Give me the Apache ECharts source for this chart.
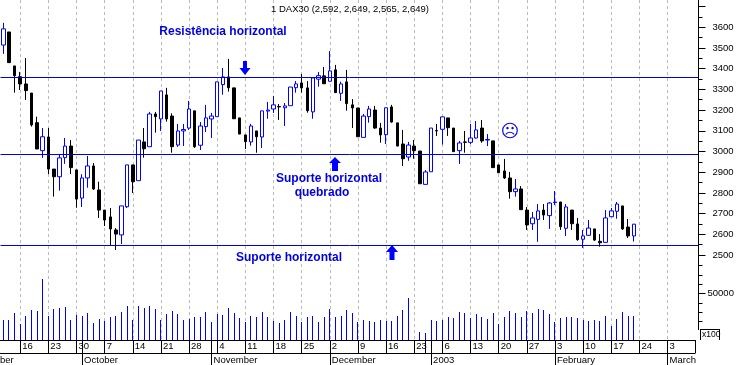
<!DOCTYPE html>
<html><head><meta charset="utf-8">
<style>html,body{margin:0;padding:0;background:#fff}#c{width:738px;height:365px}</style>
<script src="https://cdn.jsdelivr.net/npm/echarts@6/dist/echarts.min.js"></script>
</head><body><div id="c"></div>
<script>
const categories = [
 'Sep 11','Sep 12','Sep 13',
 'Sep 16','Sep 17','Sep 18','Sep 19','Sep 20',
 'Sep 23','Sep 24','Sep 25','Sep 26','Sep 27',
 'Sep 30','Oct 1','Oct 2','Oct 3','Oct 4',
 'Oct 7','Oct 8','Oct 9','Oct 10','Oct 11',
 'Oct 14','Oct 15','Oct 16','Oct 17','Oct 18',
 'Oct 21','Oct 22','Oct 23','Oct 24','Oct 25',
 'Oct 28','Oct 29','Oct 30','Oct 31','Nov 1',
 'Nov 4','Nov 5','Nov 6','Nov 7','Nov 8',
 'Nov 11','Nov 12','Nov 13','Nov 14','Nov 15',
 'Nov 18','Nov 19','Nov 20','Nov 21','Nov 22',
 'Nov 25','Nov 26','Nov 27','Nov 28','Nov 29',
 'Dec 2','Dec 3','Dec 4','Dec 5','Dec 6',
 'Dec 9','Dec 10','Dec 11','Dec 12','Dec 13',
 'Dec 16','Dec 17','Dec 18','Dec 19','Dec 20',
 'Dec 23','Dec 27','Dec 30','Jan 2','Jan 3',
 'Jan 6','Jan 7','Jan 8','Jan 9','Jan 10',
 'Jan 13','Jan 14','Jan 15','Jan 16','Jan 17',
 'Jan 20','Jan 21','Jan 22','Jan 23','Jan 24',
 'Jan 27','Jan 28','Jan 29','Jan 30','Jan 31',
 'Feb 3','Feb 4','Feb 5','Feb 6','Feb 7',
 'Feb 10','Feb 11','Feb 12','Feb 13','Feb 14',
 'Feb 17','Feb 18','Feb 19','Feb 20','Feb 21',
 'Feb 24','Feb 25','Feb 26','Feb 27','Feb 28',
 'Mar 3','Mar 4','Mar 5','Mar 6','Mar 7','Mar 10'];
const weekStarts = ['Sep 16','Sep 23','Sep 30','Oct 7','Oct 14','Oct 21','Oct 28','Nov 4','Nov 11','Nov 18','Nov 25','Dec 2','Dec 9','Dec 16','Dec 23','Jan 6','Jan 13','Jan 20','Jan 27','Feb 3','Feb 10','Feb 17','Feb 24','Mar 3'];
const extraDayTicks = ['Oct 1','Nov 1','Dec 30','Jan 2','Mar 10'];
const monthStarts = ['Oct 1','Nov 1','Dec 2','Jan 2','Feb 3','Mar 3'];
const monthLabels = ['October','November','December','2003','February','March'];
const opens = [3514,3577,3413,3361,3326,3282,3139,3004,3070,2915,2878,2970,3026,2911,2775,2872,2930,2814,2717,2684,2621,2597,2733,2935,2859,3046,3023,3181,3157,3273,3171,3031,3099,3113,3196,3030,3120,3157,3168,3323,3360,3307,3162,3080,3046,3099,3070,3195,3205,3217,3211,3221,3308,3331,3307,3191,3349,3365,3339,3394,3281,3336,3225,3210,3068,3168,3200,3113,3081,3215,3138,3036,2973,3026,3002,2841,2902,3101,3107,3162,3113,3004,3046,3044,3065,3113,3055,3051,2935,2906,2872,2806,2819,2717,2651,2672,2717,2690,2753,2756,2629,2717,2650,2576,2595,2626,2566,2561,2685,2711,2737,2635,2592];
const closes = [3592,3429,3366,3326,3294,3128,3012,3071,2915,2878,2969,3026,2922,2770,2872,2930,2819,2717,2669,2626,2601,2737,2935,2854,3055,3013,3181,3168,3292,3157,3023,3099,3106,3205,3023,3123,3162,3171,3336,3360,3308,3158,3084,3047,3123,3071,3196,3200,3225,3215,3220,3311,3326,3307,3197,3355,3366,3327,3389,3284,3326,3231,3210,3071,3171,3205,3113,3080,3211,3142,3026,2965,3031,3004,2844,2901,3113,3099,3167,3115,2999,3041,3044,3065,3104,3051,3058,2922,2897,2872,2806,2819,2719,2645,2679,2713,2693,2751,2756,2637,2732,2651,2574,2592,2630,2572,2559,2679,2713,2746,2626,2592,2649];
const lows = [3471,3429,3284,3297,3249,3120,3012,2969,2891,2782,2811,2940,2891,2728,2732,2825,2814,2679,2640,2548,2524,2553,2727,2799,2859,2970,3023,3091,3099,3144,2994,3022,3026,3104,3017,3007,3094,3065,3168,3274,3289,3158,3084,3012,3028,2994,3017,3158,3186,3152,3123,3221,3284,3284,3187,3158,3313,3327,3339,3284,3244,3197,3113,3071,3068,3139,3109,3042,3036,3139,3026,2930,2955,2965,2844,2841,2902,3075,3033,3075,2999,2940,2994,3036,3062,3042,3026,2922,2897,2867,2772,2782,2719,2621,2621,2564,2669,2626,2741,2621,2592,2621,2569,2534,2592,2568,2540,2561,2684,2675,2621,2582,2565];
const highs = [3621,3577,3413,3384,3451,3282,3168,3113,3113,2915,2988,3065,3055,2911,2890,2978,2944,2854,2717,2727,2630,2737,2935,2935,3055,3113,3191,3191,3292,3307,3184,3133,3133,3244,3196,3142,3225,3186,3336,3403,3447,3307,3162,3080,3133,3099,3196,3239,3268,3229,3234,3311,3340,3374,3340,3355,3384,3408,3485,3418,3337,3394,3253,3210,3181,3220,3220,3138,3211,3225,3138,3104,3046,3055,3002,2910,3113,3133,3167,3162,3113,3051,3099,3133,3147,3152,3084,3051,2935,2964,2901,2867,2833,2732,2708,2746,2746,2756,2809,2756,2746,2717,2679,2621,2669,2626,2601,2717,2727,2756,2737,2674,2649];
const volumes = [21500,21500,29000,17200,25800,32200,31100,65500,25800,33300,34400,35400,21500,26900,25800,29000,18300,22600,20400,24700,25800,30100,36500,21500,36500,34400,36500,33300,21500,27900,31100,27900,21500,22600,24700,24700,30100,19300,27900,26900,34400,29000,23600,19300,25800,24700,30100,24700,20400,18300,21500,30100,25800,19300,24700,25800,19300,24700,33300,24700,25800,32200,29000,19300,21500,20400,19300,21500,20400,20400,25800,32200,45100,null,8600,7500,21500,20400,21500,24700,23600,30100,29000,23600,27900,24700,22600,29000,17200,24700,31100,29000,24700,31100,29000,33300,32200,27900,19300,23600,24700,24700,23600,21500,20400,21500,20400,25800,15000,22600,30100,25800,25800];
const levels = [3357, 2985, 2546];
const priceTicks = {min: 2500, max: 3700, step: 100};
const volumeMinorTicks = [20000,30000,40000,50000,60000,70000,80000];
const volumeMajorTicks = [50000];
const title = '1 DAX30 (2,592, 2,649, 2,565, 2,649)';

const BLUE = '#0000e6', FONT = 'Liberation Sans';
const rising = opens.map((o,i)=> closes[i]>=o ? [o,closes[i],lows[i],highs[i]] : '-');
const falling = opens.map((o,i)=> closes[i]<o ? [o,closes[i],lows[i],highs[i]] : '-');
const band = {left:0.5, width:698};
const hiddenX = (g)=>({type:'category',gridIndex:g,data:categories,show:false,boundaryGap:true});
const tickSet = new Set(weekStarts.concat(extraDayTicks));
const label = (text,x,y,extra={}) => ({type:'text',x,y,silent:true,z:50,style:Object.assign({text,fill:BLUE,font:'bold 12px "'+FONT+'"',align:'center',verticalAlign:'middle'},extra)});
const rect = (x,y,w,h,fill='#000') => ({type:'rect',silent:true,z:40,shape:{x,y,width:w,height:h},style:{fill}});
const arrow = (pts) => ({type:'polygon',silent:true,z:50,shape:{points:pts},style:{fill:'#0000ff'}});

echarts.init(document.getElementById('c'),null,{renderer:'canvas'}).setOption({
  animation:false, backgroundColor:'#fff',
  grid:[
    {left:band.left,width:band.width,top:6.5,height:248.5},
    {left:band.left,width:band.width,top:265.6,height:74.4},
    {left:band.left,width:band.width,top:0,height:340}
  ],
  xAxis:[
    hiddenX(0), hiddenX(1),
    {type:'category',gridIndex:2,data:categories,boundaryGap:true,position:'bottom',
      axisLine:{show:false},
      axisTick:{show:true,alignWithLabel:true,length:13,lineStyle:{color:'#000'},interval:(i,v)=>tickSet.has(v)},
      axisLabel:{show:true,interval:(i,v)=>weekStarts.includes(v),formatter:v=>v.split(' ')[1],align:'left',padding:[0,0,0,2],margin:1,fontFamily:FONT,fontSize:9.5,color:'#000',hideOverlap:false},
      splitLine:{show:true,alignWithLabel:true,interval:(i,v)=>weekStarts.includes(v),lineStyle:{color:'#bbb',type:[3,3],width:1}}},
    {type:'category',gridIndex:2,data:categories,boundaryGap:true,position:'bottom',offset:13,
      axisLine:{show:false},
      axisTick:{show:true,alignWithLabel:true,length:12,lineStyle:{color:'#000'},interval:(i,v)=>monthStarts.includes(v)},
      axisLabel:{show:true,interval:(i,v)=>monthStarts.includes(v),formatter:v=>monthLabels[monthStarts.indexOf(v)],align:'left',padding:[0,0,0,2],margin:2,fontFamily:FONT,fontSize:9.5,color:'#000',hideOverlap:false},
      splitLine:{show:false}}
  ],
  yAxis:[
    {type:'value',gridIndex:0,position:'right',min:priceTicks.min,max:priceTicks.max,interval:priceTicks.step,
      axisLine:{show:false},axisTick:{show:true,length:7,lineStyle:{color:'#000'}},
      minorTick:{show:true,splitNumber:2,length:4,lineStyle:{color:'#000'}},
      axisLabel:{margin:14,showMaxLabel:false,formatter:v=>String(v),fontFamily:FONT,fontSize:9.5,color:'#000'},splitLine:{show:false}},
    {type:'value',gridIndex:1,position:'right',min:0,max:80000,
      axisLine:{show:false},axisTick:{show:true,length:4,customValues:volumeMinorTicks,lineStyle:{color:'#000'}},
      axisLabel:{show:false},splitLine:{show:false}},
    {type:'value',gridIndex:1,position:'right',min:0,max:80000,
      axisLine:{show:false},axisTick:{show:true,length:7,customValues:volumeMajorTicks,lineStyle:{color:'#000'}},
      axisLabel:{show:true,customValues:volumeMajorTicks,formatter:v=>String(v),margin:9,fontFamily:FONT,fontSize:9.5,color:'#000'},splitLine:{show:false}},
    {type:'value',gridIndex:2,show:false,min:0,max:1}
  ],
  series:[
    {type:'candlestick',xAxisIndex:0,yAxisIndex:0,data:falling,barWidth:3,z:5,silent:true,
      itemStyle:{color:'#000',color0:'#000',borderColor:'#000',borderColor0:'#000',borderWidth:1},
      markLine:{silent:true,symbol:'none',z:20,animation:false,label:{show:false},
        lineStyle:{color:BLUE,width:1,type:'solid'},
        data:levels.map(v=>({yAxis:v}))}},
    {type:'candlestick',xAxisIndex:0,yAxisIndex:0,data:rising,barWidth:4,z:5,silent:true,
      itemStyle:{color:'#fff',color0:'#fff',borderColor:'#0000ff',borderColor0:'#0000ff',borderWidth:1}},
    {type:'custom',xAxisIndex:1,yAxisIndex:1,z:5,silent:true,clip:false,
      data:volumes.map((v,i)=>[i,v]),encode:{x:0,y:1},
      renderItem:(params,api)=>{
        const v=api.value(1); if(!(v>0)) return null;
        const top=api.coord([api.value(0),v]), base=api.coord([api.value(0),0]);
        const y=Math.round(top[1]);
        return {type:'rect',shape:{x:Math.floor(top[0]),y,width:1,height:Math.round(base[1])-y},style:{fill:'#0000ff'}};
      }}
  ],
  graphic:[
    rect(0,340,695.5,1), rect(0,353,695.5,1), rect(698,0,1,330),
    rect(700,329,1,11), rect(700,329,19,1), rect(719,329,1,11),
    {type:'text',x:702,y:335,z:50,silent:true,style:{text:'x100',fill:'#000',font:'8.5px "'+FONT+'"',align:'left',verticalAlign:'middle'}},
    {type:'text',x:0,y:360,z:50,silent:true,style:{text:'ber',fill:'#000',font:'9.5px "'+FONT+'"',align:'left',verticalAlign:'middle'}},
    {type:'text',x:350,y:9,z:50,silent:true,style:{text:title,fill:'#000',font:'9.5px "'+FONT+'"',align:'center',verticalAlign:'middle'}},
    label('Resistência horizontal',223,32),
    label('Suporte horizontal',329,179),
    label('quebrado',322,193),
    label('Suporte horizontal',289,258),
    {type:'text',x:510,y:132,z:50,silent:true,style:{text:'☹',fill:'#0000ff',font:'18px "DejaVu Sans"',align:'center',verticalAlign:'middle'}},
    arrow([[243,61],[247,61],[247,68],[250.5,68],[245,75],[239.5,68],[243,68]]),
    arrow([[335,157],[341,163],[338,163],[338,171],[332,171],[332,163],[329,163]]),
    arrow([[392,245],[398,252],[394.5,252],[394.5,260],[389.5,260],[389.5,252],[386,252]])
  ]
});
</script></body></html>
